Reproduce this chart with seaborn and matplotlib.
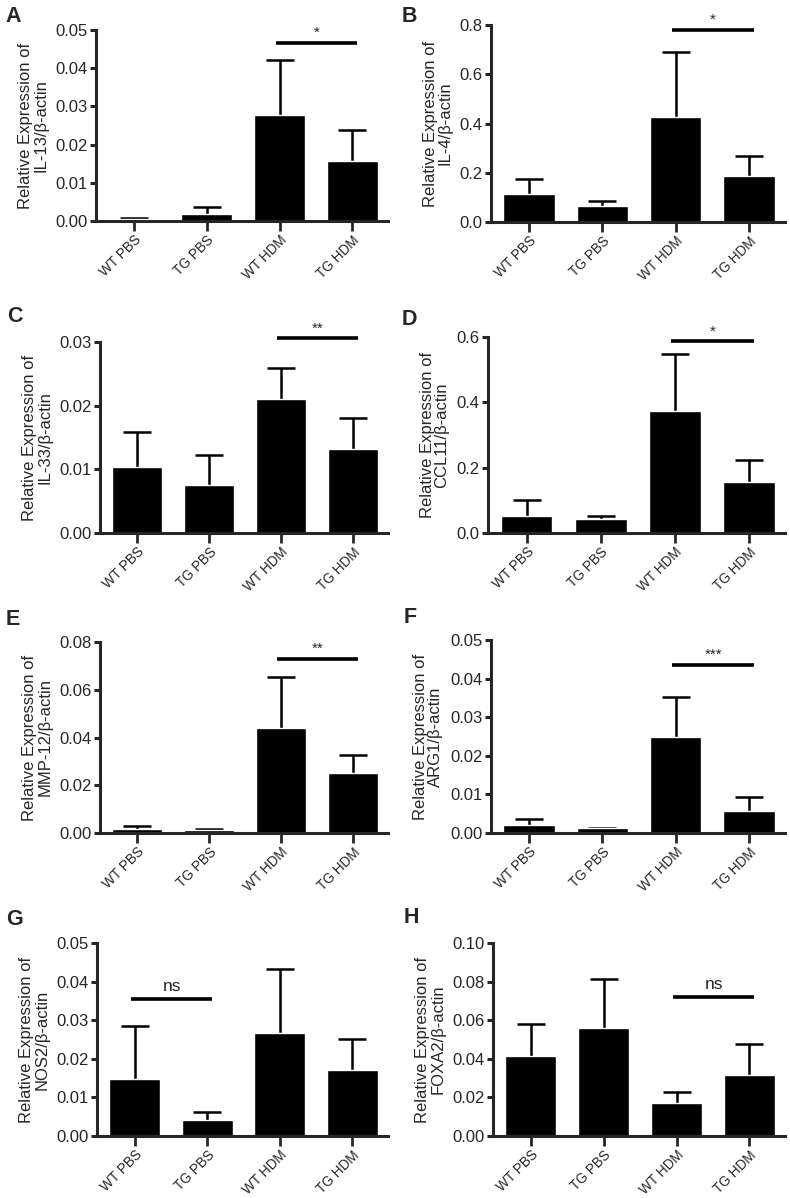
import numpy as np
import pandas as pd
import matplotlib
matplotlib.use("Agg")
import matplotlib.pyplot as plt
import seaborn as sns

sns.set_style("ticks")
plt.rcParams['font.family'] = ['Liberation Sans', 'DejaVu Sans']

groups = ["WT PBS", "TG PBS", "WT HDM", "TG HDM"]

# mean values and upper error
il13 = [0.0004, 0.0018, 0.0278, 0.0156]
il13_err = [0.0003, 0.0019, 0.0144, 0.0081]
il4 = [0.113, 0.063, 0.426, 0.185]
il4_err = [0.063, 0.021, 0.266, 0.081]
il33 = [0.0104, 0.0076, 0.0211, 0.0132]
il33_err = [0.0055, 0.0046, 0.0048, 0.0048]
ccl11 = [0.053, 0.043, 0.374, 0.155]
ccl11_err = [0.049, 0.010, 0.173, 0.070]
mmp12 = [0.0017, 0.0011, 0.0438, 0.0253]
mmp12_err = [0.0011, 0.0006, 0.0216, 0.0074]
arg1 = [0.0020, 0.0012, 0.0248, 0.0058]
arg1_err = [0.0015, 0.0002, 0.0105, 0.0035]
nos2 = [0.0148, 0.0041, 0.0267, 0.0170]
nos2_err = [0.0137, 0.0021, 0.0166, 0.0081]
foxa2 = [0.0417, 0.0560, 0.0173, 0.0318]
foxa2_err = [0.0163, 0.0256, 0.0055, 0.0160]

genes = ["IL-13", "IL-4", "IL-33", "CCL11", "MMP-12", "ARG1", "NOS2", "FOXA2"]
letters = ["A", "B", "C", "D", "E", "F", "G", "H"]
means = [il13, il4, il33, ccl11, mmp12, arg1, nos2, foxa2]
errs = [il13_err, il4_err, il33_err, ccl11_err, mmp12_err, arg1_err, nos2_err, foxa2_err]
ymax = [0.05, 0.8, 0.03, 0.6, 0.08, 0.05, 0.05, 0.10]
ystep = [0.01, 0.2, 0.01, 0.2, 0.02, 0.01, 0.01, 0.02]
ydec = [2, 1, 2, 1, 2, 2, 2, 2]
sig_text = ["*", "*", "**", "*", "**", "***", "ns", "ns"]
sig_pair = [(2, 3), (2, 3), (2, 3), (2, 3), (2, 3), (2, 3), (0, 1), (2, 3)]
sig_y = [0.0467, 0.78, 0.0306, 0.587, 0.073, 0.0435, 0.0355, 0.072]

W, H = 790, 1198
fig = plt.figure(figsize=(W / 100, H / 100), dpi=100)

# axes boxes in pixels: left, top, right, bottom
boxes = [(96, 30, 388, 221), (491, 25, 785, 222),
         (100, 342, 388, 533), (488, 337, 785, 533),
         (100, 642, 388, 833), (491, 640, 785, 833),
         (97, 943, 388, 1136), (493, 943, 785, 1136)]
letter_pos = [(5, 6), (402, 6), (7, 306), (402, 309),
              (6, 609), (404, 607), (6, 909), (404, 907)]

for i in range(8):
    l, t, r, b = boxes[i]
    ax = fig.add_axes([l / W, 1 - b / H, (r - l) / W, (b - t) / H])
    df = pd.DataFrame({"group": groups, "value": means[i]})
    x = np.arange(4)
    eb = ax.errorbar(x, means[i], yerr=[np.zeros(4), errs[i]], fmt="none",
                     ecolor="black", elinewidth=1.8, capsize=10, capthick=1.8, zorder=1)
    eb[1][0].set_visible(False)  # only the upper cap
    sns.barplot(data=df, x="group", y="value", color="black", width=0.7,
                saturation=1, errorbar=None, ax=ax, zorder=2)
    ax.set_xlim(-0.52, 3.49)
    ax.set_ylim(0, ymax[i])
    ticks = np.arange(0, ymax[i] + ystep[i] / 2, ystep[i])
    ax.set_yticks(ticks)
    ax.set_yticklabels([f"{v:.{ydec[i]}f}" for v in ticks], fontsize=12)
    ax.set_xticks(x)
    ax.set_xticklabels(groups, rotation=45, ha="right", rotation_mode="anchor", fontsize=9.8)
    ax.set_xlabel("")
    ax.set_ylabel(f"Relative Expression of\n{genes[i]}/\u03b2-actin", fontsize=12,
                  linespacing=1.0, labelpad=5)
    sns.despine(ax=ax)
    for s in ["left", "bottom"]:
        ax.spines[s].set_linewidth(2.2)
    ax.tick_params(axis="y", length=4, width=2.2, pad=2)
    ax.tick_params(axis="x", length=7, width=2.0, pad=1.5)

    a, c = sig_pair[i]
    ax.plot([a - 0.05, c + 0.07], [sig_y[i], sig_y[i]], color="black", lw=2.6,
            clip_on=False, solid_capstyle="butt")
    if sig_text[i] == "ns":
        ax.text((a + c) / 2 + 0.01, sig_y[i] + ymax[i] * 0.025, "ns", ha="center",
                va="bottom", fontsize=12.5)
    else:
        ax.text((a + c) / 2 + 0.01, sig_y[i] + ymax[i] * 0.015, sig_text[i], ha="center",
                va="bottom", fontsize=11)

    lx, ly = letter_pos[i]
    fig.text(lx / W, 1 - ly / H, letters[i], fontsize=15.5, fontweight="bold",
             ha="left", va="top")

fig.savefig("out.png", dpi=100)
